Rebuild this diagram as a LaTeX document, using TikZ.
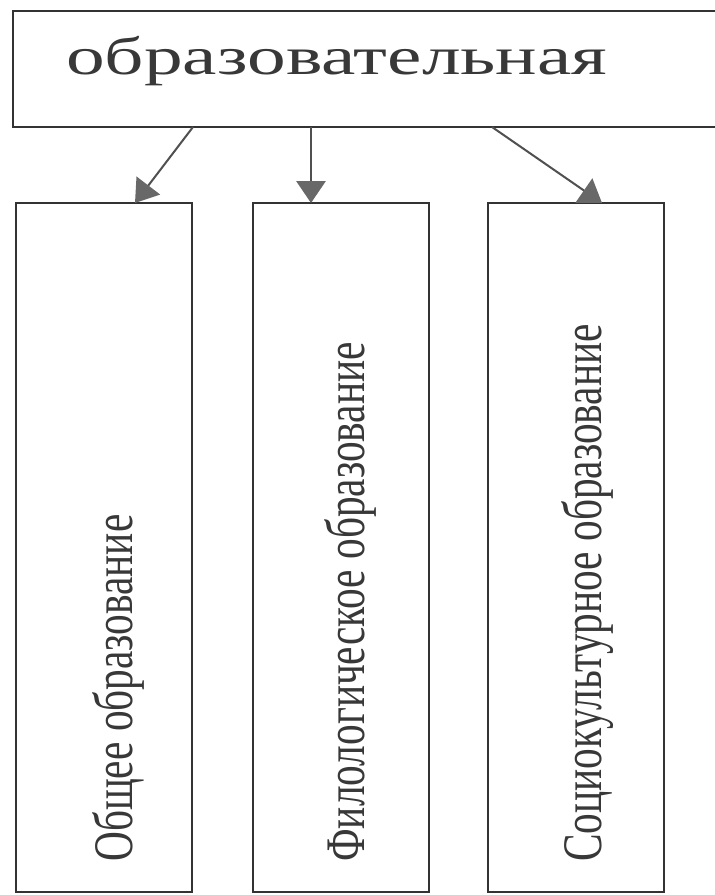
\documentclass[tikz,border=0pt]{standalone}
\usepackage{fontspec}
\setmainfont{Liberation Serif}
\usetikzlibrary{arrows.meta,calc}
\definecolor{ink}{HTML}{333333}
\definecolor{txt}{HTML}{383838}
\definecolor{linec}{HTML}{505050}
\definecolor{headc}{HTML}{686868}
\begin{document}
\begin{tikzpicture}[x=0.75pt,y=-0.75pt,
  frame/.style={draw=ink, line width=2pt, inner sep=0pt, outer sep=0pt, anchor=north west},
  lowbox/.style={frame, minimum width=132pt, minimum height=516.75pt},
  arr/.style={draw=linec, line width=1.5pt, -{Triangle[length=16.5pt,width=22pt,color=headc]}},
  vtext/.style={rotate=90, anchor=base west, inner sep=0pt, text=txt},
  toptext/.style={anchor=base west, inner sep=0pt, text=txt}]
\useasboundingbox (0,0) rectangle (714,895);
\fill[white] (0,0) rectangle (714,895);
% boxes
\node[frame, minimum width=545.25pt, minimum height=87pt] (top) at (13,11) {};
\node[lowbox] (b1) at (16,203) {};
\node[lowbox] (b2) at (253,203) {};
\node[lowbox] (b3) at (488,203) {};
% texts
\node[toptext] (tt) at (66,75) {\scalebox{1.45}[1]{\fontsize{40}{40}\selectfont образовательная}};
\node[vtext] (t1) at (132,862) {\scalebox{1}[1.35]{\fontsize{31}{31}\selectfont Общее образование}};
\node[vtext] (t2) at (364,862) {\scalebox{1}[1.35]{\fontsize{31}{31}\selectfont Филологическое образование}};
\node[vtext] (t3) at (601,862) {\scalebox{1}[1.35]{\fontsize{31}{31}\selectfont Социокультурное образование}};
% connectors
\coordinate (s1) at ($(top.south west)+(180,0)$);
\coordinate (s2) at ($(top.south west)+(298,0)$);
\coordinate (s3) at ($(top.south west)+(479,0)$);
\coordinate (e1) at ($(b1.north west)+(119,0)$);
\coordinate (e2) at ($(b2.north west)+(58,0)$);
\coordinate (e3) at ($(b3.north west)+(114,0)$);
\draw[arr] (s1) -- (e1);
\draw[arr] (s2) -- (e2);
\draw[arr] (s3) -- (e3);
\end{tikzpicture}
\end{document}
